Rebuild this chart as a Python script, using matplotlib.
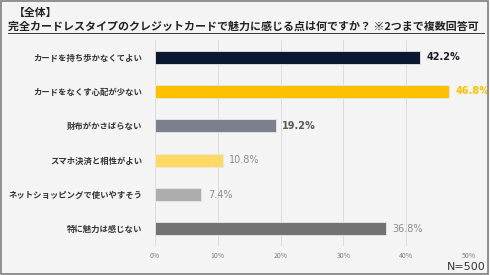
import matplotlib
matplotlib.use("Agg")
import matplotlib.pyplot as plt
from matplotlib.patches import Rectangle

plt.rcParams['font.family'] = ['Noto Sans CJK JP', 'DejaVu Sans']

categories = ["カードを持ち歩かなくてよい", "カードをなくす心配が少ない", "財布がかさばらない",
              "スマホ決済と相性がよい", "ネットショッピングで使いやすそう", "特に魅力は感じない"]
values = [42.2, 46.8, 19.2, 10.8, 7.4, 36.8]
bar_colors = ["#0c1830", "#ffc000", "#7b818c", "#ffd966", "#adadad", "#727272"]
label_colors = ["#1a1a2a", "#ffc000", "#595959", "#8c8c8c", "#8c8c8c", "#8c8c8c"]
label_weights = ["bold", "bold", "bold", "normal", "normal", "normal"]
xticks = [0, 10, 20, 30, 40, 50]
xticklabels = ["0%", "10%", "20%", "30%", "40%", "50%"]
title1 = "【全体】"
title2 = "完全カードレスタイプのクレジットカードで魅力に感じる点は何ですか？ ※2つまで複数回答可"
note = "N=500"

bg = "#f4f4f4"
fig = plt.figure(figsize=(4.9, 2.75), dpi=100, facecolor=bg)
ax = fig.add_axes([155/490, 1-246/275, (469-155)/490, (246-40)/275], facecolor=bg)

y = list(range(len(categories)))
ax.barh(y, values, height=0.38, color=bar_colors, edgecolor="#e8e8e8", linewidth=0.6, zorder=3)
ax.set_ylim(len(categories)-0.5, -0.5)
ax.set_xlim(0, 50)
ax.set_xticks(xticks)
ax.set_xticklabels(xticklabels, fontsize=5, color="#7f7f7f")
ax.set_yticks(y)
ax.set_yticklabels(categories, fontsize=6, color="#333333", fontweight="bold")
ax.tick_params(axis="both", length=0)
ax.tick_params(axis="y", pad=9)
ax.tick_params(axis="x", pad=4)
ax.grid(axis="x", color="#dcdcdc", linewidth=0.7, zorder=0)
for s in ax.spines.values():
    s.set_visible(False)

for i, v in enumerate(values):
    ax.text(v + 1.0, i, f"{v:.1f}%", va="center", ha="left", fontsize=7,
            color=label_colors[i], fontweight=label_weights[i],
            family=["DejaVu Sans"])

fig.text(14/490, 1-13/275, title1, fontsize=7.8, fontweight="bold", color="#222222", va="center")
fig.text(8/490, 1-27/275, title2, fontsize=7.9, fontweight="bold", color="#222222", va="center")
fig.add_artist(plt.Line2D([8/490, 484/490], [1-33/275, 1-33/275], color="#333333", linewidth=0.7))
fig.text(486/490, 1-267/275, note, fontsize=8, color="#333333", ha="right", va="center",
         family=["DejaVu Sans"])
fig.add_artist(Rectangle((0.002, 0.003), 0.994, 0.992, transform=fig.transFigure,
                         fill=False, edgecolor="#7f7f7f", linewidth=1.2))

fig.savefig("out.png", dpi=100, facecolor=bg)
